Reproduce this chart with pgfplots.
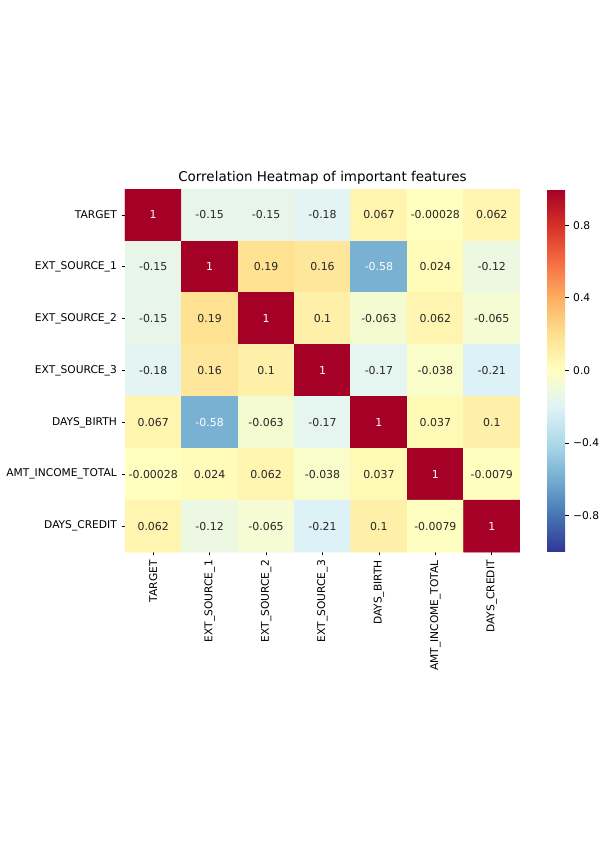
\documentclass[border=0pt]{standalone}
\usepackage{pgfplots}
\usepackage{pgfplotstable}
\pgfplotsset{compat=1.18}
\usepackage{fontspec}
\setmainfont{DejaVu Sans}
\definecolor{darktext}{HTML}{262626}
\pgfplotstableread{
x y c
0 0 1
1 0 -0.15
2 0 -0.15
3 0 -0.18
4 0 0.067
5 0 -0.00028
6 0 0.062
0 1 -0.15
1 1 1
2 1 0.19
3 1 0.16
4 1 -0.58
5 1 0.024
6 1 -0.12
0 2 -0.15
1 2 0.19
2 2 1
3 2 0.1
4 2 -0.063
5 2 0.062
6 2 -0.065
0 3 -0.18
1 3 0.16
2 3 0.1
3 3 1
4 3 -0.17
5 3 -0.038
6 3 -0.21
0 4 0.067
1 4 -0.58
2 4 -0.063
3 4 -0.17
4 4 1
5 4 0.037
6 4 0.1
0 5 -0.00028
1 5 0.024
2 5 0.062
3 5 -0.038
4 5 0.037
5 5 1
6 5 -0.0079
0 6 0.062
1 6 -0.12
2 6 -0.065
3 6 -0.21
4 6 0.1
5 6 -0.0079
6 6 1
}\corrtable
\pgfplotstableread{
x y lbl
1 0 -0.15
2 0 -0.15
3 0 -0.18
4 0 0.067
5 0 -0.00028
6 0 0.062
0 1 -0.15
2 1 0.19
3 1 0.16
5 1 0.024
6 1 -0.12
0 2 -0.15
1 2 0.19
3 2 0.1
4 2 -0.063
5 2 0.062
6 2 -0.065
0 3 -0.18
1 3 0.16
2 3 0.1
4 3 -0.17
5 3 -0.038
6 3 -0.21
0 4 0.067
2 4 -0.063
3 4 -0.17
5 4 0.037
6 4 0.1
0 5 -0.00028
1 5 0.024
2 5 0.062
3 5 -0.038
4 5 0.037
6 5 -0.0079
0 6 0.062
1 6 -0.12
2 6 -0.065
3 6 -0.21
4 6 0.1
5 6 -0.0079
}\darklabels
\pgfplotstableread{
x y lbl
0 0 1
1 1 1
4 1 -0.58
2 2 1
3 3 1
1 4 -0.58
4 4 1
5 5 1
6 6 1
}\whitelabels
\begin{document}
\begin{tikzpicture}
\path (0,0) rectangle (450pt,636.75pt);
\begin{axis}[
  at={(93.75pt,222.75pt)}, anchor=south west,
  scale only axis, width=296.25pt, height=272.25pt,
  xmin=-0.5, xmax=6.5, ymin=-0.5, ymax=6.5,
  y dir=reverse,
  axis line style={draw=none},
  colormap={RdYlBu_r}{rgb255=(49,54,149) rgb255=(69,117,180) rgb255=(116,173,209) rgb255=(171,217,233) rgb255=(224,243,248) rgb255=(255,255,191) rgb255=(254,224,144) rgb255=(253,174,97) rgb255=(244,109,67) rgb255=(215,48,39) rgb255=(165,0,38)},
  point meta min=-1, point meta max=1,
  xtick={0,...,6}, ytick={0,...,6},
  xticklabels={TARGET,EXT\_SOURCE\_1,EXT\_SOURCE\_2,EXT\_SOURCE\_3,DAYS\_BIRTH,AMT\_INCOME\_TOTAL,DAYS\_CREDIT},
  yticklabels={TARGET,EXT\_SOURCE\_1,EXT\_SOURCE\_2,EXT\_SOURCE\_3,DAYS\_BIRTH,AMT\_INCOME\_TOTAL,DAYS\_CREDIT},
  xticklabel style={rotate=90, anchor=east, font=\fontsize{8}{9.6}\selectfont, text=black},
  yticklabel style={font=\fontsize{8}{9.6}\selectfont, text=black},
  tick align=outside, tick pos=left,
  major tick length=2.6pt,
  tick style={black, line width=0.6pt},
  title={Correlation Heatmap of important features},
  title style={font=\fontsize{10.1}{12}\selectfont, yshift=-6pt},
  colorbar right,
  colorbar style={
    at={(parent axis.north east)}, anchor=north west, xshift=11.75pt,
    width=13.5pt,
    ytick={-0.8,-0.4,0,0.4,0.8},
    yticklabels={−0.8,−0.4,0.0,0.4,0.8},
    yticklabel style={font=\fontsize{8}{9.6}\selectfont, text=black},
    axis line style={draw=none},
    tick align=outside,
    ytick pos=right,
    major tick length=2.6pt,
    tick style={black, line width=0.6pt},
  },
]
\addplot[matrix plot*, mesh/cols=7, point meta=explicit] table[x=x, y=y, meta=c] {\corrtable};
\addplot[draw=none, mark=none, point meta=explicit symbolic,
  nodes near coords,
  nodes near coords align=center,
  every node near coord/.append style={font=\fontsize{8.2}{9.8}\selectfont, text=darktext, anchor=center}
] table[x=x, y=y, meta=lbl] {\darklabels};
\addplot[draw=none, mark=none, point meta=explicit symbolic,
  nodes near coords,
  nodes near coords align=center,
  every node near coord/.append style={font=\fontsize{8.2}{9.8}\selectfont, text=white, anchor=center}
] table[x=x, y=y, meta=lbl] {\whitelabels};
\end{axis}
\end{tikzpicture}
\end{document}
